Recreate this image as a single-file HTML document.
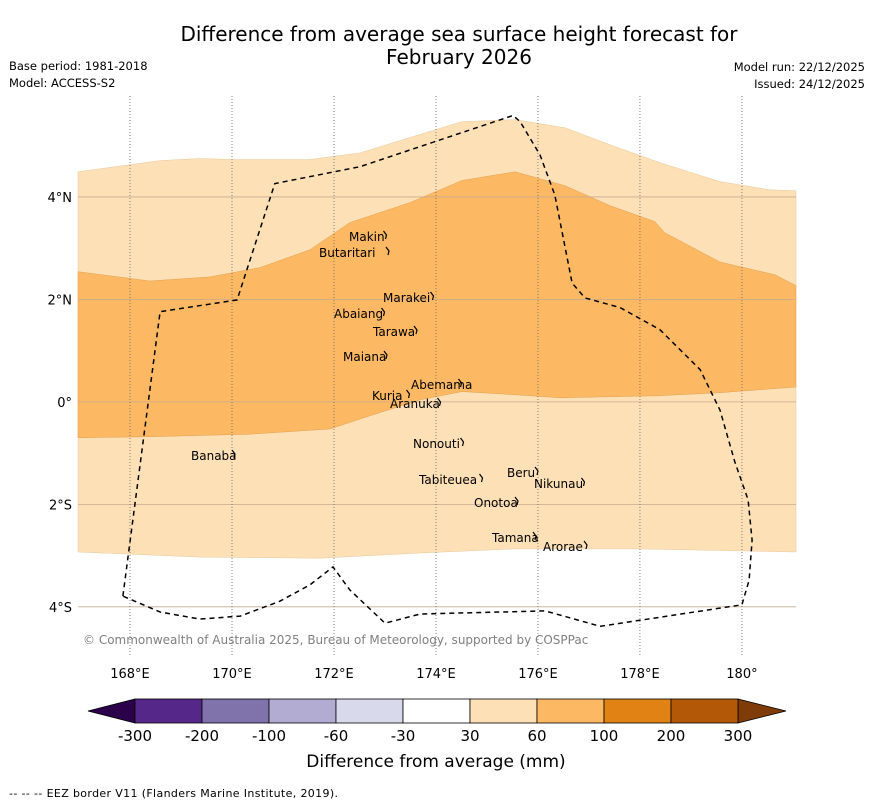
<!DOCTYPE html>
<html><head><meta charset="utf-8"><style>
body{margin:0;background:#fff;}
svg text{font-family:"DejaVu Sans","Liberation Sans",sans-serif;}
</style></head><body>
<svg id="c" width="873" height="804" xmlns="http://www.w3.org/2000/svg">
<text x="459" y="41" font-size="20" text-anchor="middle">Difference from average sea surface height forecast for</text>
<text x="459" y="64" font-size="20" text-anchor="middle">February 2026</text>
<text x="9" y="70" font-size="11.5">Base period: 1981-2018</text>
<text x="9" y="87" font-size="11.5">Model: ACCESS-S2</text>
<text x="865" y="71" font-size="11.5" text-anchor="end">Model run: 22/12/2025</text>
<text x="865" y="88" font-size="11.5" text-anchor="end">Issued: 24/12/2025</text>
<g id="map"></g>
<g id="cb"></g>
<text x="436" y="767" font-size="17" text-anchor="middle">Difference from average (mm)</text>
<text x="9" y="797" font-size="11" textLength="329">--  --  -- EEZ border V11 (Flanders Marine Institute, 2019).</text>
</svg>
<script>
// axis ranges
const lonMin=166.98, lonMax=181.06, latMin=-4.94, latMax=5.97;
const lonTicks=[168,170,172,174,176,178,180];
const lonLabels=["168°E","170°E","172°E","174°E","176°E","178°E","180°"];
const latTicks=[4,2,0,-2,-4];
const latLabels=["4°N","2°N","0°","2°S","4°S"];
// contour boundaries (lon, lat)
const lightTopLon=[166.98,168,168.59,169.37,170,171.53,172.51,173.49,174.51,175.55,176.53,177.41,178.39,179.57,180.55,181.06];
const lightTopLat=[4.49,4.63,4.71,4.75,4.73,4.73,4.86,5.16,5.47,5.51,5.35,5.02,4.67,4.30,4.14,4.12];
const orangeTopLon=[166.98,168.39,169.57,170.55,171.53,172.31,173.49,174.51,175.55,176.53,177.41,178.29,178.49,179.57,180.65,181.06];
const orangeTopLat=[2.54,2.36,2.44,2.62,2.97,3.50,3.89,4.32,4.49,4.22,3.83,3.52,3.30,2.73,2.48,2.27];
const orangeBotLon=[166.98,168.39,170.35,171.92,172.71,173.69,174.51,175.55,176.43,178.39,179.57,181.06];
const orangeBotLat=[-0.70,-0.68,-0.63,-0.53,-0.27,0.04,0.20,0.14,0.08,0.12,0.18,0.29];
const lightBotLon=[166.98,169.37,171.73,173.69,175.55,178.0,181.06];
const lightBotLat=[-2.93,-3.03,-3.05,-2.95,-2.87,-2.87,-2.93];
const eezLon=[167.86,168.59,170.10,170.84,172.51,175.51,175.65,176.04,176.33,176.67,176.92,177.61,178.39,179.18,179.57,179.86,180.12,180.20,180.14,180.0,177.22,176.14,173.69,173.0,172.31,171.98,171.53,170.94,170.16,169.37,168.59,167.86];
const eezLat=[-3.79,1.76,1.99,4.26,4.59,5.59,5.47,4.82,4.04,2.32,2.03,1.84,1.41,0.63,-0.16,-1.17,-1.91,-2.70,-3.48,-3.96,-4.38,-4.08,-4.14,-4.32,-3.67,-3.22,-3.57,-3.89,-4.18,-4.24,-4.10,-3.79];
// colorbar
const cbBounds=["-300","-200","-100","-60","-30","30","60","100","200","300"];
const cbColors=["#542788","#8073ac","#b2abd2","#d8daeb","#ffffff","#fee0b6","#fdb863","#e08214","#b35806"];
const cbUnder="#2d004b", cbOver="#7f3b08";
const islands=[["Makin",349,241],["Butaritari",319,257],["Marakei",383,302],["Abaiang",334,318],["Tarawa",373,336],["Maiana",343,361],["Abemama",411,389],["Kuria",372,400],["Aranuka",390,408],["Nonouti",413,448],["Banaba",191,460],["Beru",507,477],["Tabiteuea",419,484],["Nikunau",534,488],["Onotoa",474,507],["Tamana",492,542],["Arorae",543,551]];

const X0=78,X1=796,Y0=96,Y1=655;
const xs=l=>X0+(l-lonMin)/(lonMax-lonMin)*(X1-X0);
const ys=l=>Y0+(latMax-l)/(latMax-latMin)*(Y1-Y0);
const NS="http://www.w3.org/2000/svg";
function mk(tag,attrs,parent){const e=document.createElementNS(NS,tag);for(const k in attrs)e.setAttribute(k,attrs[k]);parent.appendChild(e);return e;}
const map=document.getElementById('map');
function line(lons,lats){return lons.map((l,i)=>xs(l).toFixed(1)+","+ys(lats[i]).toFixed(1));}
function band(tl,tla,bl,bla){const a=line(tl,tla),b=line(bl,bla).reverse();return "M"+a.join("L")+"L"+b.join("L")+"Z";}
let p=mk('path',{d:band(lightTopLon,lightTopLat,lightBotLon,lightBotLat),fill:"#fee0b6",stroke:"#e8c89c","stroke-width":0.5},map);


p=mk('path',{d:band(orangeTopLon,orangeTopLat,orangeBotLon,orangeBotLat),fill:"#fdb863",stroke:"#e0a050","stroke-width":0.5},map);


latTicks.forEach((t,i)=>{
  const l=mk('line',{x1:X0,x2:X1,y1:ys(t),y2:ys(t),stroke:"#c8aa90","stroke-width":0.8},map);
  
  
  const tx=mk('text',{x:72,y:ys(t)+5,"font-size":13,"text-anchor":"end"},map);tx.textContent=latLabels[i];
  
  
});
lonTicks.forEach((t,i)=>{
  const l=mk('line',{x1:xs(t),x2:xs(t),y1:Y0,y2:Y1,stroke:"#666","stroke-width":0.8,"stroke-dasharray":"1,2"},map);
  
  
  const tx=mk('text',{x:xs(t),y:678,"font-size":13,"text-anchor":"middle"},map);tx.textContent=lonLabels[i];
  
  
});
p=mk('path',{d:"M"+line(eezLon,eezLat).join("L"),fill:"none",stroke:"#000","stroke-width":1.5,"stroke-dasharray":"5,4"},map);


islands.forEach(s=>{
  const g=mk('path',{d:`M${s[1]+s[0].length*6.5+2},${s[2]-10}l3,4l-1,4`,fill:"none",stroke:"#000","stroke-width":1.2},map);
  
  
  const t=mk('text',{x:s[1],y:s[2],"font-size":12},map);t.textContent=s[0];
  
  
});
let cp=mk('text',{x:83,y:644,"font-size":12,fill:"#808080"},map);cp.textContent="© Commonwealth of Australia 2025, Bureau of Meteorology, supported by COSPPac";


// colorbar
const cb=document.getElementById('cb');
const CX0=135,CX1=738,CY0=699,CY1=723,w=(CX1-CX0)/cbColors.length;
let a=mk('path',{d:`M${CX0},${CY0}L88,711L${CX0},${CY1}Z`,fill:cbUnder,stroke:"#000","stroke-width":0.8},cb);


a=mk('path',{d:`M${CX1},${CY0}L786,711L${CX1},${CY1}Z`,fill:cbOver,stroke:"#000","stroke-width":0.8},cb);


cbColors.forEach((c,i)=>{
  const r=mk('rect',{x:CX0+i*w,y:CY0,width:w,height:CY1-CY0,fill:c,stroke:"#000","stroke-width":0.8},cb);
  
  
});
cbBounds.forEach((b,i)=>{
  const t=mk('text',{x:CX0+i*w,y:741,"font-size":15,"text-anchor":"middle"},cb);t.textContent=b;
  
  
});
</script>
</body></html>
